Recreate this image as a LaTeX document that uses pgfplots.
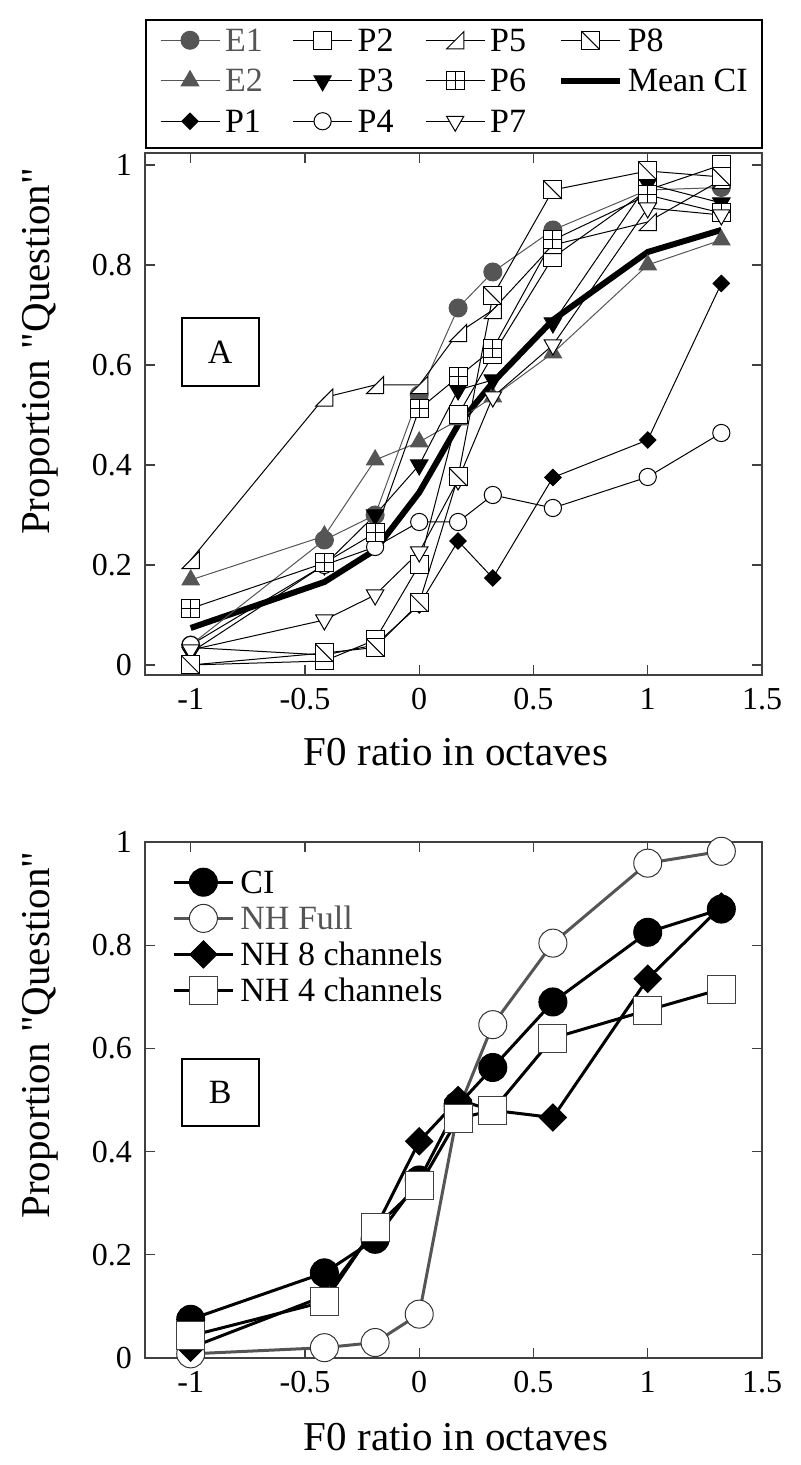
\documentclass[border=0pt]{standalone}
\usepackage{fontspec}
\setmainfont{Liberation Serif}[Ligatures=TeXOff]
\usepackage{pgfplots}
\usepackage{pgfplotstable}
\pgfplotsset{compat=1.18}
\definecolor{dg}{RGB}{85,85,85}

\pgfdeclareplotmark{sqplus}{%
  \pgfpathrectangle{\pgfqpoint{-\pgfplotmarksize}{-\pgfplotmarksize}}{\pgfqpoint{2\pgfplotmarksize}{2\pgfplotmarksize}}%
  \pgfusepathqfillstroke
  \pgfpathmoveto{\pgfqpoint{-\pgfplotmarksize}{0pt}}%
  \pgfpathlineto{\pgfqpoint{\pgfplotmarksize}{0pt}}%
  \pgfpathmoveto{\pgfqpoint{0pt}{-\pgfplotmarksize}}%
  \pgfpathlineto{\pgfqpoint{0pt}{\pgfplotmarksize}}%
  \pgfusepathqstroke}
\pgfdeclareplotmark{sqdiag}{%
  \pgfpathrectangle{\pgfqpoint{-\pgfplotmarksize}{-\pgfplotmarksize}}{\pgfqpoint{2\pgfplotmarksize}{2\pgfplotmarksize}}%
  \pgfusepathqfillstroke
  \pgfpathmoveto{\pgfqpoint{-\pgfplotmarksize}{\pgfplotmarksize}}%
  \pgfpathlineto{\pgfqpoint{\pgfplotmarksize}{-\pgfplotmarksize}}%
  \pgfusepathqstroke}
\pgfdeclareplotmark{rtri}{%
  \pgfpathmoveto{\pgfqpoint{-\pgfplotmarksize}{-\pgfplotmarksize}}%
  \pgfpathlineto{\pgfqpoint{\pgfplotmarksize}{-\pgfplotmarksize}}%
  \pgfpathlineto{\pgfqpoint{\pgfplotmarksize}{\pgfplotmarksize}}%
  \pgfpathclose
  \pgfusepathqfillstroke}

\pgfplotstableread{
x      E1    E2    P1    P2    P3    P4    P5    P6    P7    P8    CI
-1     0.04  0.17  0.035 0.0   0.025 0.04  0.21  0.113 0.03  0.0   0.074
-0.415 0.25  0.258 0.02  0.008 0.20  0.20  0.535 0.204 0.09  0.024 0.166
-0.193 0.30  0.41  0.04  0.05  0.30  0.236 0.56  0.264 0.14  0.035 0.23
0      0.54  0.446 0.12  0.20  0.40  0.286 0.56  0.512 0.226 0.124 0.345
0.170  0.714 0.49  0.248 0.50  0.55  0.286 0.664 0.576 0.37  0.376 0.48
0.322  0.786 0.536 0.174 0.62  0.57  0.34  0.71  0.632 0.536 0.738 0.565
0.585  0.87  0.624 0.375 0.815 0.684 0.314 0.84  0.85  0.64  0.95  0.69
1      0.95  0.80  0.45  0.95  0.962 0.376 0.886 0.94  0.914 0.988 0.826
1.322  0.955 0.85  0.763 1.0   0.924 0.464 0.97  0.904 0.90  0.976 0.87
}\topdata

\pgfplotstableread{
x      CI    NHF   NH8   NH4
-1     0.075 0.008 0.02  0.043
-0.415 0.165 0.02  0.12  0.109
-0.193 0.23  0.03  0.25  0.253
0      0.345 0.085 0.42  0.334
0.170  0.49  0.48  0.50  0.464
0.322  0.563 0.646 0.48  0.48
0.585  0.69  0.804 0.466 0.62
1      0.825 0.959 0.735 0.674
1.322  0.87  0.982 0.875 0.715
}\botdata

\pgfplotsset{
  myaxis/.style={
    scale only axis, width=308.5pt,
    xmin=-1.2, xmax=1.5,
    xtick={-1,-0.5,0,0.5,1,1.5},
    ytick={0,0.2,0.4,0.6,0.8,1},
    tick align=inside, major tick length=5pt,
    axis line style={black!75, line width=0.6pt},
    tick style={black!75, line width=0.6pt},
    /pgf/number format/assume math mode=true,
    tick label style={font=\fontsize{16}{18}\selectfont},
    xticklabel style={yshift=-3pt},
    yticklabel style={xshift=-3pt},
    label style={font=\fontsize{20.5}{24}\selectfont},
    xlabel={F0 ratio in octaves},
    ylabel={Proportion "Question"},
  },
  thin/.style={line width=0.5pt, mark options={solid, line width=0.5pt}},
  e1/.style={thin, dg, mark=*, mark size=4.5pt, mark options={fill=dg, draw=dg}},
  e2/.style={thin, dg, mark=triangle*, mark size=5pt, mark options={fill=dg, draw=dg}},
  p1/.style={thin, black, mark=square*, mark size=2.9pt, mark options={rotate=45, fill=black}},
  p2/.style={thin, black, mark=square*, mark size=4.5pt, mark options={fill=white}},
  p3/.style={thin, black, mark=triangle*, mark size=5pt, mark options={rotate=180, fill=black}},
  p4/.style={thin, black, mark=*, mark size=4.3pt, mark options={fill=white}},
  p5/.style={thin, black, mark=rtri, mark size=4.3pt, mark options={fill=white}},
  p6/.style={thin, black, mark=sqplus, mark size=4.5pt, mark options={fill=white}},
  p7/.style={thin, black, mark=triangle*, mark size=5pt, mark options={rotate=180, fill=white}},
  p8/.style={thin, black, mark=sqdiag, mark size=4.5pt, mark options={fill=white}},
  mci/.style={black, line width=3pt, no markers},
  bci/.style={black, line width=1.5pt, mark=*, mark size=7pt, mark options={line width=0.5pt, fill=black}},
  bnhf/.style={dg, line width=1.5pt, mark=*, mark size=7pt, mark options={line width=0.5pt, fill=white, draw=black!80}},
  bnh8/.style={black, line width=1.5pt, mark=square*, mark size=4.8pt, mark options={line width=0.5pt, rotate=45, fill=black}},
  bnh4/.style={black, line width=1.5pt, mark=square*, mark size=7pt, mark options={line width=0.5pt, fill=white, draw=black!75}},
}

\newcommand{\lw}[1]{\makebox[31.3pt][l]{#1}}

\begin{document}
\begin{tikzpicture}
\path[use as bounding box] (0,0) rectangle (400pt,732.5pt);

% ---------------- Panel A ----------------
\begin{axis}[myaxis,
  at={(72.5pt,395pt)}, anchor=south west, height=261pt,
  ymin=-0.02, ymax=1.024,
  xlabel style={at={(axis description cs:0.504,-0.148)}, anchor=center},
  ylabel style={at={(axis description cs:-0.170,0.62)}, anchor=center},
  legend columns=4,
  legend image code/.code={\draw[mark repeat=2, mark phase=2] plot coordinates {(0pt,5.6pt) (14.75pt,5.6pt) (29.5pt,5.6pt)};},
  legend style={at={(axis description cs:0,1.0077)}, anchor=south west,
    draw=black, line width=1pt, fill=white,
    inner xsep=7pt, inner ysep=2.75pt,
    font=\fontsize{17}{20}\selectfont,
    nodes={inner sep=0pt, text height=13pt, text depth=5pt, anchor=base west},
    row sep=2.25pt,
    /tikz/every odd column/.style={column sep=2.5pt},
    /tikz/every even column/.style={column sep=2.5pt}},
]
\addlegendimage{e1}\addlegendentry{\textcolor{dg}{\lw{E1}}}
\addlegendimage{p2}\addlegendentry{\lw{P2}}
\addlegendimage{p5}\addlegendentry{\lw{P5}}
\addlegendimage{p8}\addlegendentry{P8}
\addlegendimage{e2}\addlegendentry{\textcolor{dg}{\lw{E2}}}
\addlegendimage{p3}\addlegendentry{\lw{P3}}
\addlegendimage{p6}\addlegendentry{\lw{P6}}
\addlegendimage{mci}\addlegendentry{Mean CI}
\addlegendimage{p1}\addlegendentry{\lw{P1}}
\addlegendimage{p4}\addlegendentry{\lw{P4}}
\addlegendimage{p7}\addlegendentry{\lw{P7}}

\addplot[mci, forget plot] table[x=x, y=CI] {\topdata};
\addplot[e1, forget plot] table[x=x, y=E1] {\topdata};
\addplot[e2, forget plot] table[x=x, y=E2] {\topdata};
\addplot[p1, forget plot] table[x=x, y=P1] {\topdata};
\addplot[p2, forget plot] table[x=x, y=P2] {\topdata};
\addplot[p3, forget plot] table[x=x, y=P3] {\topdata};
\addplot[p4, forget plot] table[x=x, y=P4] {\topdata};
\addplot[p5, forget plot] table[x=x, y=P5] {\topdata};
\addplot[p6, forget plot] table[x=x, y=P6] {\topdata};
\addplot[p7, forget plot] table[x=x, y=P7] {\topdata};
\addplot[p8, forget plot] table[x=x, y=P8] {\topdata};

\node[draw, line width=1pt, minimum width=38.5pt, minimum height=34pt, inner sep=0pt,
  font=\fontsize{17}{20}\selectfont] at (axis description cs:0.122,0.619) {A};
\end{axis}

% ---------------- Panel B ----------------
\begin{axis}[myaxis,
  at={(72.5pt,53.5pt)}, anchor=south west, height=258pt,
  ymin=0, ymax=1.0,
  xlabel style={at={(axis description cs:0.504,-0.153)}, anchor=center},
  ylabel style={at={(axis description cs:-0.170,0.626)}, anchor=center},
  legend image code/.code={\draw[mark repeat=2, mark phase=2] plot coordinates {(0pt,5.6pt) (14.75pt,5.6pt) (29.5pt,5.6pt)};},
  legend style={at={(axis description cs:0.0438,0.950)}, anchor=north west,
    draw=none, fill=none, inner sep=0pt,
    font=\fontsize{17}{20}\selectfont,
    nodes={inner sep=0pt, text height=12.5pt, text depth=5pt, anchor=base west},
    row sep=0.5pt,
    /tikz/every odd column/.style={column sep=3pt}},
]
\addlegendimage{bci}\addlegendentry{CI}
\addlegendimage{bnhf}\addlegendentry{\textcolor{dg}{NH Full}}
\addlegendimage{bnh8}\addlegendentry{NH 8 channels}
\addlegendimage{bnh4}\addlegendentry{NH 4 channels}

\addplot[bnhf, forget plot] table[x=x, y=NHF] {\botdata};
\addplot[bnh8, forget plot] table[x=x, y=NH8] {\botdata};
\addplot[bci, forget plot] table[x=x, y=CI] {\botdata};
\addplot[bnh4, forget plot] table[x=x, y=NH4] {\botdata};

\node[draw, line width=1pt, minimum width=38.5pt, minimum height=33.5pt, inner sep=0pt,
  font=\fontsize{17}{20}\selectfont] at (axis description cs:0.122,0.514) {B};
\end{axis}
\end{tikzpicture}
\end{document}
